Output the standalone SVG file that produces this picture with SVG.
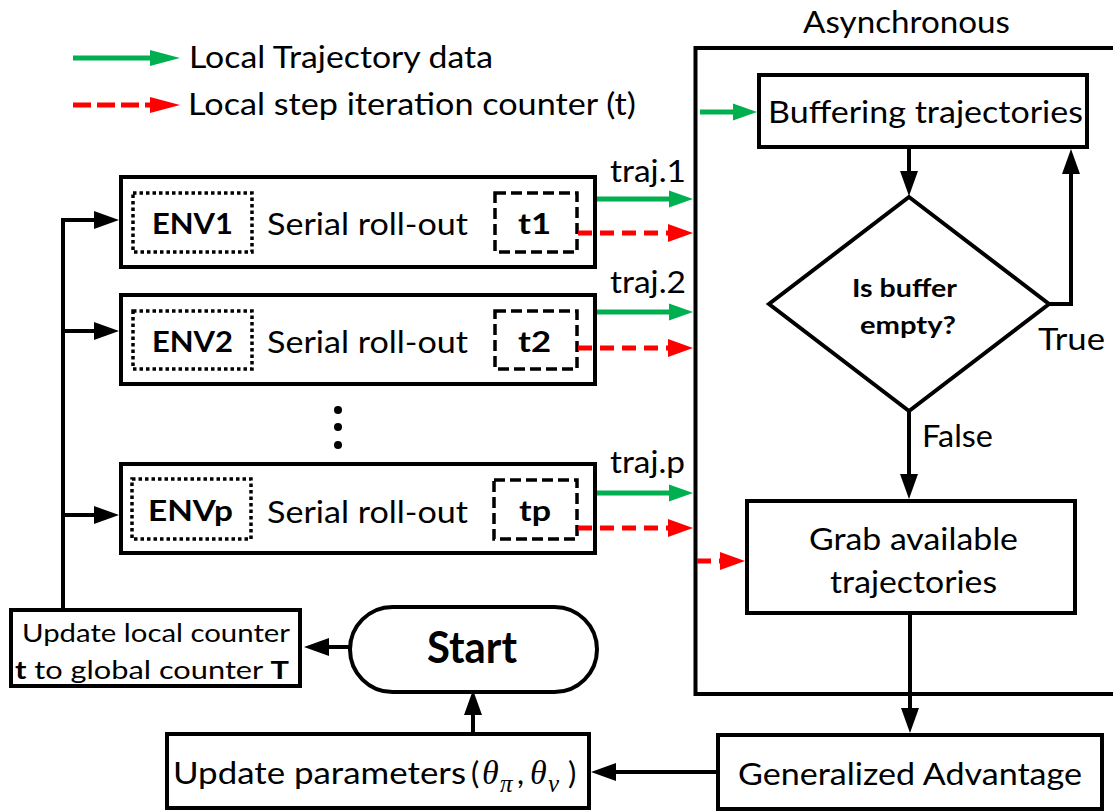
<svg xmlns="http://www.w3.org/2000/svg" width="1113" height="811" viewBox="0 0 1113 811">
  <defs>
    <style>
      .box{fill:#fff;stroke:#000;stroke-width:4}
      .txt{font-family:Lato,'Open Sans',sans-serif;font-size:31px;fill:#000}
      .b{font-weight:bold}
      .env{font-size:29px}
      .q{font-size:24px}
      .small{font-size:25px}
      .big{font-size:44px}
      .wire{fill:none;stroke:#000;stroke-width:4}
      .green{fill:none;stroke:#00b050;stroke-width:5}
      .red{fill:none;stroke:#ff0000;stroke-width:5;stroke-dasharray:14 8}
      .redL{fill:none;stroke:#ff0000;stroke-width:5;stroke-dasharray:18 6}
      .dot{fill:none;stroke:#000;stroke-width:3.5;stroke-dasharray:3.5 3}
      .dash{fill:none;stroke:#000;stroke-width:3.5;stroke-dasharray:11 5}
      .math{font-family:'Liberation Serif',serif;font-style:italic;fill:#000}
    </style>
    <!-- arrowheads: base sits on the line end, tip extends beyond it -->
    <marker id="ahBlack" markerUnits="userSpaceOnUse" markerWidth="25" markerHeight="18" refX="0" refY="9" orient="auto" overflow="visible">
      <path d="M0,0 L25,9 L0,18 z" fill="#000"/>
    </marker>
    <marker id="ahGreen" markerUnits="userSpaceOnUse" markerWidth="24" markerHeight="17" refX="0" refY="8.5" orient="auto" overflow="visible">
      <path d="M0,0 L24,8.5 L0,17 z" fill="#00b050"/>
    </marker>
    <marker id="ahRed" markerUnits="userSpaceOnUse" markerWidth="25" markerHeight="18" refX="0" refY="9" orient="auto" overflow="visible">
      <path d="M0,0 L25,9 L0,18 z" fill="#ff0000"/>
    </marker>
    <marker id="ahGreenL" markerUnits="userSpaceOnUse" markerWidth="30" markerHeight="16" refX="0" refY="8" orient="auto" overflow="visible">
      <path d="M0,0 L30,8 L0,16 z" fill="#00b050"/>
    </marker>
    <marker id="ahRedL" markerUnits="userSpaceOnUse" markerWidth="30" markerHeight="16" refX="0" refY="8" orient="auto" overflow="visible">
      <path d="M0,0 L30,8 L0,16 z" fill="#ff0000"/>
    </marker>
  </defs>

  <rect width="1113" height="811" fill="#fff"/>

  <!-- legend -->
  <g id="legend">
    <path class="green" d="M73,58 H150" marker-end="url(#ahGreenL)"/>
    <text class="txt" x="189" y="68" textLength="304" lengthAdjust="spacingAndGlyphs">Local Trajectory data</text>
    <path class="redL" d="M73,105 H150" marker-end="url(#ahRedL)"/>
    <text class="txt" x="188" y="115" textLength="448" lengthAdjust="spacingAndGlyphs">Local step iteration counter (t)</text>
  </g>

  <!-- asynchronous learner region -->
  <g id="async">
    <path class="wire" d="M1116,48 H695.5 V694 H1116"/>
    <text class="txt" x="803" y="33" textLength="207" lengthAdjust="spacingAndGlyphs">Asynchronous</text>
  </g>

  <!-- parallel environments -->
  <g id="env1">
    <rect class="box" x="121" y="177" width="474" height="90"/>
    <rect class="dot" x="133" y="193" width="119" height="59"/>
    <text class="txt b env" x="152" y="234" textLength="81" lengthAdjust="spacingAndGlyphs">ENV1</text>
    <text class="txt" x="267" y="235" textLength="201" lengthAdjust="spacingAndGlyphs">Serial roll-out</text>
    <rect class="dash" x="495" y="193" width="82" height="59"/>
    <text class="txt b env" x="518" y="234" textLength="33" lengthAdjust="spacingAndGlyphs">t1</text>
  </g>
  <g id="env2">
    <rect class="box" x="121" y="295" width="474" height="89"/>
    <rect class="dot" x="133" y="311" width="119" height="58"/>
    <text class="txt b env" x="152" y="352" textLength="81" lengthAdjust="spacingAndGlyphs">ENV2</text>
    <text class="txt" x="267" y="353" textLength="201" lengthAdjust="spacingAndGlyphs">Serial roll-out</text>
    <rect class="dash" x="495" y="311" width="82" height="58"/>
    <text class="txt b env" x="518" y="352" textLength="33" lengthAdjust="spacingAndGlyphs">t2</text>
  </g>
  <g id="ellipsis">
    <circle cx="338" cy="410" r="4"/>
    <circle cx="338" cy="427" r="4"/>
    <circle cx="338" cy="445" r="4"/>
  </g>
  <g id="envp">
    <rect class="box" x="121" y="464" width="474" height="89"/>
    <rect class="dot" x="132" y="479" width="119" height="60"/>
    <text class="txt b env" x="148" y="521" textLength="85" lengthAdjust="spacingAndGlyphs">ENVp</text>
    <text class="txt" x="267" y="523" textLength="201" lengthAdjust="spacingAndGlyphs">Serial roll-out</text>
    <rect class="dash" x="494" y="480" width="83" height="59"/>
    <text class="txt b env" x="519" y="521" textLength="32" lengthAdjust="spacingAndGlyphs">tp</text>
  </g>

  <!-- learner steps -->
  <g id="buffering">
    <rect class="box" x="759" y="75" width="328" height="72"/>
    <text class="txt" x="768" y="123" textLength="315" lengthAdjust="spacingAndGlyphs">Buffering trajectories</text>
  </g>
  <g id="decision">
    <polygon class="box" points="909,197 1049,304 909,411 769,304"/>
    <text class="txt b q" x="852" y="297" textLength="105" lengthAdjust="spacingAndGlyphs">Is buffer</text>
    <text class="txt b q" x="860" y="334" textLength="96" lengthAdjust="spacingAndGlyphs">empty?</text>
  </g>
  <g id="grab">
    <rect class="box" x="747" y="501" width="328" height="112"/>
    <text class="txt" x="809" y="550" textLength="209" lengthAdjust="spacingAndGlyphs">Grab available</text>
    <text class="txt" x="830" y="593" textLength="167" lengthAdjust="spacingAndGlyphs">trajectories</text>
  </g>
  <g id="gae">
    <rect class="box" x="718" y="735" width="384" height="74"/>
    <text class="txt" x="738" y="785" textLength="344" lengthAdjust="spacingAndGlyphs">Generalized Advantage</text>
  </g>
  <g id="update-params">
    <rect class="box" x="167" y="734" width="422" height="74"/>
    <text class="txt" x="173" y="784" textLength="293" lengthAdjust="spacingAndGlyphs">Update parameters</text>
    <text class="txt" x="471" y="784">(</text>
    <text class="math" x="482" y="784" font-size="34">θ</text>
    <text class="math" x="500" y="792" font-size="25">π</text>
    <text class="txt" x="517" y="784">,</text>
    <text class="math" x="530" y="784" font-size="34">θ</text>
    <text class="math" x="548" y="792" font-size="25">v</text>
    <text class="txt" x="568" y="784">)</text>
  </g>
  <g id="start">
    <rect class="box" x="350" y="607" width="247" height="85" rx="42.5" ry="42.5"/>
    <text class="txt b big" x="427" y="663" textLength="90" lengthAdjust="spacingAndGlyphs">Start</text>
  </g>
  <g id="sync-counter">
    <rect class="box" x="11" y="610" width="289" height="76"/>
    <text class="txt small" x="22" y="642" textLength="268" lengthAdjust="spacingAndGlyphs">Update local counter</text>
    <text class="txt small" x="15" y="679" textLength="274" lengthAdjust="spacingAndGlyphs"><tspan class="b">t</tspan> to global counter <tspan class="b">T</tspan></text>
  </g>

  <!-- branch labels -->
  <g id="labels">
    <text class="txt" x="610" y="182" textLength="76" lengthAdjust="spacingAndGlyphs">traj.1</text>
    <text class="txt" x="610" y="293" textLength="76" lengthAdjust="spacingAndGlyphs">traj.2</text>
    <text class="txt" x="610" y="473" textLength="75" lengthAdjust="spacingAndGlyphs">traj.p</text>
    <text class="txt" x="1038" y="350" textLength="67" lengthAdjust="spacingAndGlyphs">True</text>
    <text class="txt" x="922" y="447" textLength="71" lengthAdjust="spacingAndGlyphs">False</text>
  </g>

  <!-- connectors -->
  <g id="connectors">
    <!-- counter sync fan-out to environments -->
    <path class="wire" d="M63,610 V220 H94" marker-end="url(#ahBlack)"/>
    <path class="wire" d="M63,331 H94" marker-end="url(#ahBlack)"/>
    <path class="wire" d="M63,515 H94" marker-end="url(#ahBlack)"/>
    <path class="wire" d="M350,647 H329" marker-end="url(#ahBlack)"/>
    <path class="wire" d="M473,732 V715" marker-end="url(#ahBlack)"/>
    <path class="wire" d="M716,772 H616" marker-end="url(#ahBlack)"/>
    <path class="wire" d="M910,615 V708" marker-end="url(#ahBlack)"/>
    <path class="wire" d="M909,411 V474" marker-end="url(#ahBlack)"/>
    <path class="wire" d="M909,149 V171" marker-end="url(#ahBlack)"/>
    <path class="wire" d="M1049,304 H1071 V174" marker-end="url(#ahBlack)"/>
    <!-- trajectory data -->
    <path class="green" d="M597,199 H669" marker-end="url(#ahGreen)"/>
    <path class="green" d="M597,312 H669" marker-end="url(#ahGreen)"/>
    <path class="green" d="M597,493 H669" marker-end="url(#ahGreen)"/>
    <path class="green" d="M700,112 H733" marker-end="url(#ahGreen)"/>
    <!-- step counters -->
    <path class="red" d="M578,233 H668" marker-end="url(#ahRed)"/>
    <path class="red" d="M578,348 H668" marker-end="url(#ahRed)"/>
    <path class="red" d="M578,528 H668" marker-end="url(#ahRed)"/>
    <path class="red" d="M697,561 H720" marker-end="url(#ahRed)"/>
  </g>
</svg>
